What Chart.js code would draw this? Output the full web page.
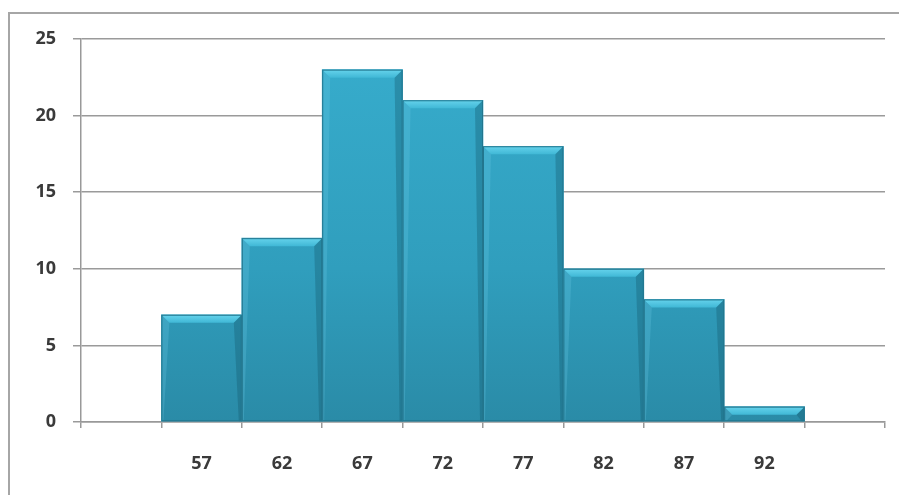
<!DOCTYPE html>
<html>
<head>
<meta charset="utf-8">
<script src="https://cdn.jsdelivr.net/npm/chart.js@4/dist/chart.umd.min.js"></script>
<style>
  html, body { margin: 0; padding: 0; background: #ffffff; }
  #wrap { position: relative; width: 899px; height: 495px; }
  canvas { display: block; }
</style>
</head>
<body>
<div id="wrap"><canvas id="hist" width="899" height="495"></canvas></div>
<script>
// Histogram bins (empty slot on each side of the data)
const binLabels = ['', '57', '62', '67', '72', '77', '82', '87', '92', ''];
const frequencies = [null, 7, 12, 23, 21, 18, 10, 8, 1, null];
const yTicks = [0, 5, 10, 15, 20, 25];

// Frame around the whole chart, only top and left edges fall inside the view
const framePlugin = {
  id: 'frame',
  beforeDraw(chart) {
    const ctx = chart.ctx;
    ctx.save();
    ctx.strokeStyle = '#a6a6a6';
    ctx.lineWidth = 2;
    ctx.strokeRect(9, 13, 1200, 1200);
    ctx.restore();
  }
};

// Bevel on every bar: light top chamfer, faint lit left edge, shaded right edge
const bevelPlugin = {
  id: 'bevel',
  afterDatasetsDraw(chart) {
    const ctx = chart.ctx;
    const meta = chart.getDatasetMeta(0);
    meta.data.forEach((bar, i) => {
      if (frequencies[i] == null) return;
      const p = bar.getProps(['x', 'y', 'base', 'width'], true);
      const l = p.x - p.width / 2, r = p.x + p.width / 2;
      const t = p.y, b = p.base;
      const h = b - t;
      const bv = Math.min(8, h * 0.55);
      ctx.save();
      // top chamfer
      const g = ctx.createLinearGradient(0, t, 0, t + bv);
      g.addColorStop(0, '#66d3ec');
      g.addColorStop(1, '#40b8d6');
      ctx.fillStyle = g;
      ctx.beginPath();
      ctx.moveTo(l, t);
      ctx.lineTo(r, t);
      ctx.lineTo(r - bv, t + bv);
      ctx.lineTo(l + bv, t + bv);
      ctx.closePath();
      ctx.fill();
      // left edge highlight
      ctx.fillStyle = 'rgba(110,205,230,0.25)';
      ctx.beginPath();
      ctx.moveTo(l, t);
      ctx.lineTo(l + bv, t + bv);
      ctx.lineTo(l + 2, b);
      ctx.lineTo(l, b);
      ctx.closePath();
      ctx.fill();
      // right edge shade
      ctx.fillStyle = 'rgba(20,90,110,0.35)';
      ctx.beginPath();
      ctx.moveTo(r, t);
      ctx.lineTo(r - bv, t + bv);
      ctx.lineTo(r - 3, b);
      ctx.lineTo(r, b);
      ctx.closePath();
      ctx.fill();
      // outline
      ctx.strokeStyle = '#22768e';
      ctx.lineWidth = 1;
      ctx.strokeRect(l + 0.5, t + 0.5, r - l - 1, h - 1);
      ctx.restore();
    });
  }
};

const labelFont = { family: 'Open Sans', size: 18, weight: '700' };

const chart = new Chart(document.getElementById('hist'), {
  type: 'bar',
  data: {
    labels: binLabels,
    datasets: [{
      data: frequencies,
      barPercentage: 1,
      categoryPercentage: 1,
      borderWidth: 0,
      backgroundColor(context) {
        const ch = context.chart;
        const area = ch.chartArea;
        if (!area) return '#2f9fbf';
        const g = ch.ctx.createLinearGradient(0, area.top, 0, area.bottom);
        g.addColorStop(0, '#37adcd');
        g.addColorStop(0.6, '#309ebd');
        g.addColorStop(1, '#2a8ba7');
        return g;
      }
    }]
  },
  options: {
    responsive: false,
    animation: false,
    events: [],
    layout: { padding: { top: 39, right: 14, left: 0, bottom: 0 } },
    plugins: {
      legend: { display: false },
      tooltip: { enabled: false }
    },
    scales: {
      x: {
        offset: true,
        grid: {
          offset: true,
          drawOnChartArea: false,
          drawTicks: true,
          tickLength: 6,
          color: '#999999',
          lineWidth: 1.5
        },
        border: { display: true, color: '#999999', width: 1.5 },
        ticks: {
          padding: 25,
          color: '#3a3a3a',
          font: labelFont
        },
        afterFit(scale) { scale.height = 73; }
      },
      y: {
        min: 0,
        max: 25,
        afterBuildTicks(scale) { scale.ticks = yTicks.map(v => ({ value: v })); },
        grid: {
          color: '#9a9a9a',
          lineWidth: 1.5,
          drawTicks: true,
          tickLength: 8
        },
        border: { display: true, color: '#999999', width: 1.5 },
        ticks: {
          padding: 17,
          color: '#3a3a3a',
          font: labelFont
        },
        afterFit(scale) { scale.width = 81; }
      }
    }
  },
  plugins: [framePlugin, bevelPlugin]
});
</script>
</body>
</html>
